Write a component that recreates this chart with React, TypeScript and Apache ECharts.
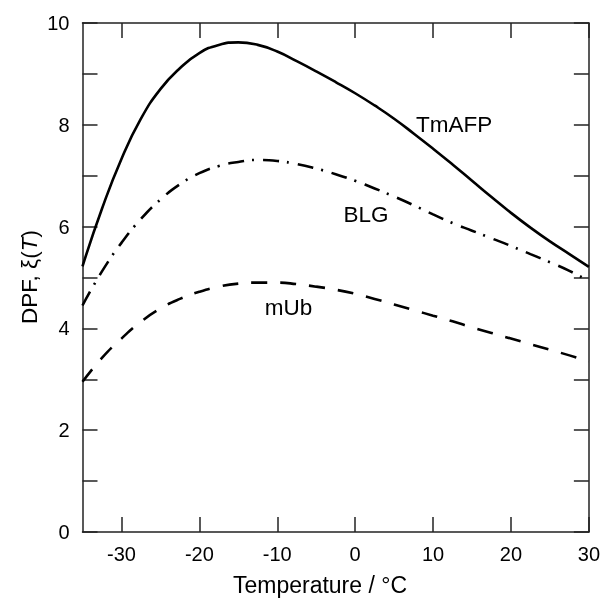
import React, { useEffect, useRef } from "react";
import * as echarts from "echarts";

const temps = [-35, -32.5, -30, -27.5, -25, -22.5, -20, -17.5, -15, -12.5, -10, -7.5, -5, -2.5, 0, 2.5, 5, 7.5, 10, 12.5, 15, 17.5, 20, 22.5, 25, 27.5, 30];
const tmafp = [5.22, 6.35, 7.33, 8.12, 8.7, 9.11, 9.41, 9.57, 9.62, 9.57, 9.44, 9.25, 9.05, 8.84, 8.62, 8.38, 8.12, 7.83, 7.53, 7.22, 6.9, 6.58, 6.27, 5.98, 5.71, 5.46, 5.21];
const blg = [4.45, 5.12, 5.68, 6.15, 6.53, 6.83, 7.05, 7.19, 7.27, 7.31, 7.29, 7.23, 7.14, 7.03, 6.9, 6.75, 6.59, 6.42, 6.24, 6.07, 5.92, 5.77, 5.62, 5.46, 5.3, 5.13, 4.93];
const mub = [2.95, 3.42, 3.8, 4.13, 4.39, 4.58, 4.72, 4.82, 4.88, 4.9, 4.9, 4.87, 4.82, 4.76, 4.68, 4.58, 4.47, 4.36, 4.25, 4.14, 4.02, 3.91, 3.8, 3.69, 3.58, 3.47, 3.35];
const xTicks = [-30, -20, -10, 0, 10, 20, 30];
const curveLabels = [
  { name: "TmAFP", t: 7.8, v: 8.0 },
  { name: "BLG", t: -1.5, v: 6.23 },
  { name: "mUb", t: -11.6, v: 4.41 },
];

const FONT = "'Liberation Sans', Arial, Helvetica, sans-serif";

export default function App() {
  const ref = useRef<HTMLDivElement>(null);
  useEffect(() => {
    if (!ref.current) return;
    const chart = echarts.init(ref.current, null, { renderer: "svg" });
    const axisLine = { show: true, onZero: false, lineStyle: { color: "#222", width: 1.5 } };
    const tickStyle = { color: "#222", width: 1.5 };
    const mk = (vals: number[]) => temps.map((t, i) => [t, vals[i]]);
    const lineSeries = (name: string, vals: number[], type: any) => ({
      name,
      type: "line",
      data: mk(vals),
      smooth: 0.5,
      showSymbol: false,
      symbol: "none",
      lineStyle: { color: "#000", width: 2.6, type, cap: "butt" },
    });
    chart.setOption({
      animation: false,
      grid: { left: 82.5, right: 11.5, top: 23, bottom: 66 },
      xAxis: [
        {
          type: "value",
          min: -35,
          max: 30,
          axisLine,
          splitLine: { show: false },
          axisTick: { show: true, inside: true, length: 15, customValues: xTicks, lineStyle: tickStyle },
          axisLabel: { customValues: xTicks, color: "#000", fontSize: 20, fontFamily: FONT, margin: 12 },
        },
        {
          type: "value",
          position: "top",
          min: -35,
          max: 30,
          axisLine,
          splitLine: { show: false },
          axisTick: { show: true, inside: true, length: 15, customValues: xTicks, lineStyle: tickStyle },
          axisLabel: { show: false },
        },
      ],
      yAxis: [
        {
          type: "value",
          min: 0,
          max: 10,
          interval: 1,
          axisLine,
          splitLine: { show: false },
          axisTick: { show: true, inside: true, length: 15, lineStyle: tickStyle },
          axisLabel: {
            color: "#000",
            fontSize: 20,
            fontFamily: FONT,
            margin: 13,
            formatter: (v: number) => (v % 2 === 0 ? String(v) : ""),
          },
        },
        {
          type: "value",
          position: "right",
          min: 0,
          max: 10,
          interval: 1,
          axisLine,
          splitLine: { show: false },
          axisTick: { show: true, inside: true, length: 15, lineStyle: tickStyle },
          axisLabel: { show: false },
        },
      ],
      series: [
        lineSeries("TmAFP", tmafp, "solid"),
        lineSeries("BLG", blg, [16, 8, 2, 9]),
        lineSeries("mUb", mub, [16, 13]),
      ],
    });
    const texts: any[] = curveLabels.map((l) => {
      const p = chart.convertToPixel({ gridIndex: 0 } as any, [l.t, l.v]) as number[];
      return {
        type: "text",
        x: p[0],
        y: p[1],
        style: { text: l.name, fill: "#000", font: `22.5px ${FONT}`, align: "left", verticalAlign: "middle" },
      };
    });
    texts.push({
      type: "text",
      x: 320,
      y: 585,
      style: { text: "Temperature / °C", fill: "#000", font: `23px ${FONT}`, align: "center", verticalAlign: "middle" },
    });
    texts.push({
      type: "text",
      x: 29,
      y: 277,
      rotation: Math.PI / 2,
      style: {
        text: "{a|DPF, ξ(}{b|T}{a|)}",
        align: "center",
        verticalAlign: "middle",
        rich: {
          a: { fontSize: 22.5, fontFamily: FONT, fill: "#000" },
          b: { fontSize: 22.5, fontFamily: FONT, fontStyle: "italic", fill: "#000" },
        },
      },
    });
    chart.setOption({ graphic: texts });
    return () => chart.dispose();
  }, []);
  return <div ref={ref} style={{ position: "fixed", left: 0, top: 0, width: 603, height: 598 }} />;
}
